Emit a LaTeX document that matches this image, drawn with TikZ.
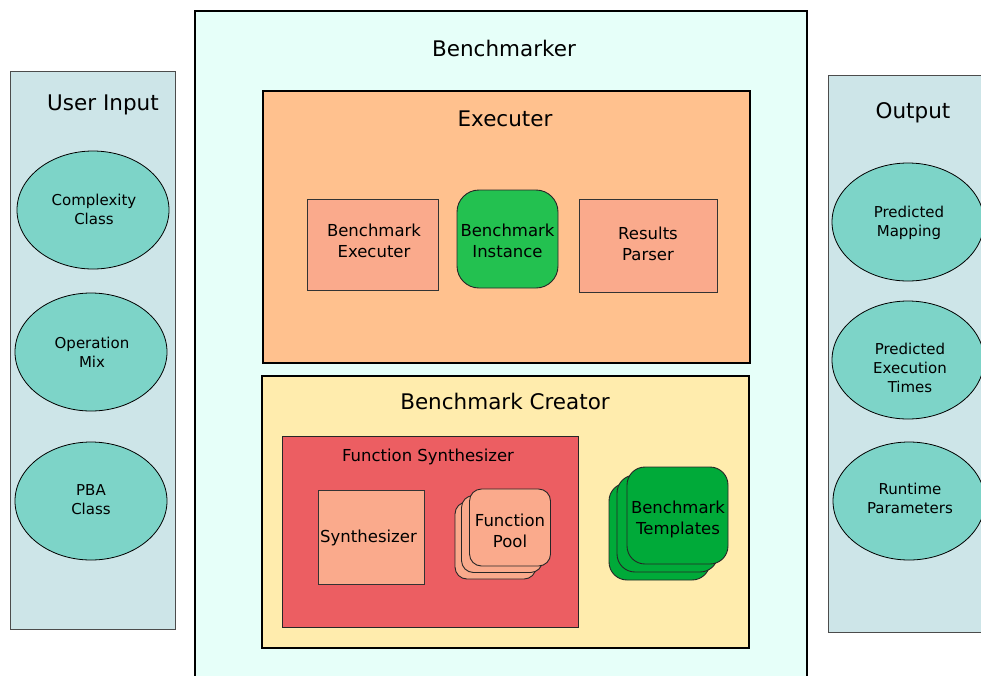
\documentclass[tikz,border=0pt]{standalone}
\usepackage{fontspec}
\setmainfont{DejaVu Sans}
\usetikzlibrary{shapes.geometric}
\definecolor{panelbg}{RGB}{205,229,232}
\definecolor{benchbg}{RGB}{230,255,249}
\definecolor{execbg}{RGB}{255,193,142}
\definecolor{creatorbg}{RGB}{255,236,173}
\definecolor{synthbg}{RGB}{236,94,98}
\definecolor{salmon}{RGB}{250,170,140}
\definecolor{instgreen}{RGB}{35,193,80}
\definecolor{tplgreen}{RGB}{0,170,57}
\definecolor{ovalfill}{RGB}{125,212,200}
\tikzset{
  big/.style={font=\fontsize{21.5}{26}\selectfont},
  mid/.style={font=\fontsize{16.5}{21}\selectfont, align=center},
  small/.style={font=\fontsize{15}{19}\selectfont, align=center},
  panel/.style={draw=black!70, line width=1pt, fill=panelbg, inner sep=0},
  frame/.style={draw=black, line width=2.6pt, inner sep=0},
  card/.style={draw=black!80, line width=0.9pt, fill=salmon, inner sep=0},
  oval/.style={ellipse, draw=black, line width=0.8pt, fill=ovalfill, inner sep=0,
    minimum width=152pt, minimum height=118pt},
  pooltile/.style={draw=black!85, line width=0.9pt, fill=salmon, rounded corners=12pt,
    minimum width=81pt, minimum height=77pt, inner sep=0},
  tpltile/.style={draw=black!85, line width=0.9pt, fill=tplgreen, rounded corners=18pt,
    minimum width=101pt, minimum height=97pt, inner sep=0},
}
\begin{document}
\begin{tikzpicture}[x=1pt,y=-1pt]
\useasboundingbox (0,0) rectangle (981,675);
\fill[white] (0,0) rectangle (981,675);

% side panels
\node[panel, minimum width=165pt, minimum height=558pt] (inpanel) at (92.5,350) {};
\node[big] (intitle) at (103,105) {User Input};
\node[oval] (cc) at (93,210) {};
\node[small] (cctext) at (94,209.5) {Complexity\\Class};
\node[oval] (om) at (91,352) {};
\node[small] (omtext) at (92,352.5) {Operation\\Mix};
\node[oval] (pba) at (91,501) {};
\node[small] (pbatext) at (91,500) {PBA\\Class};

\node[panel, minimum width=170pt, minimum height=557pt] (outpanel) at (913,353.5) {};
\node[big] (outtitle) at (913,113) {Output};
\node[oval] (pm) at (908,222) {};
\node[small] (pmtext) at (909,222.5) {Predicted\\Mapping};
\node[oval] (pet) at (908,360) {};
\node[small] (pettext) at (910,368) {Predicted\\Execution\\Times};
\node[oval] (rp) at (909,501) {};
\node[small] (rptext) at (910,498.5) {Runtime\\Parameters};

% benchmarker frame
\node[frame, fill=benchbg, minimum width=612pt, minimum height=690pt] (bench) at (501,356) {};
\node[big] (benchtitle) at (504,48.5) {Benchmarker};

% executer
\node[frame, fill=execbg, minimum width=487pt, minimum height=272pt] (exec) at (506.5,227) {};
\node[big] (exectitle) at (505,118.5) {Executer};
\node[card, minimum width=131pt, minimum height=91pt] (bexec) at (372.5,244.5) {};
\node[mid] (bexectext) at (374,241) {Benchmark\\Executer};
\node[draw=black!85, line width=0.9pt, fill=instgreen, rounded corners=22pt,
  minimum width=101pt, minimum height=98pt, inner sep=0] (binst) at (507.5,239) {};
\node[mid] (binsttext) at (507.5,240.5) {Benchmark\\Instance};
\node[card, minimum width=138pt, minimum height=93pt] (rparse) at (648,245.5) {};
\node[mid] (rparsetext) at (648,243.5) {Results\\Parser};

% benchmark creator
\node[frame, fill=creatorbg, minimum width=487pt, minimum height=272pt] (creator) at (505.5,512) {};
\node[big] (creatortitle) at (505,401) {Benchmark Creator};
\node[draw=black!85, line width=0.9pt, fill=synthbg, inner sep=0,
  minimum width=296pt, minimum height=191pt] (fsynth) at (430,531.5) {};
\node[mid] (fsynthtitle) at (428,456.5) {Function Synthesizer};
\node[card, minimum width=106pt, minimum height=94pt] (synth) at (371,537) {};
\node[mid] (synthtext) at (368.5,537.5) {Synthesizer};

% function pool: three stacked tiles
\node[pooltile] (pool3) at (495.5,540.5) {};
\node[pooltile] (pool2) at (502,534) {};
\node[pooltile] (pool1) at (510,527.5) {};
\node[mid] (pooltext) at (510,530.5) {Function\\Pool};

% benchmark templates: three stacked tiles
\node[tpltile] (tpl3) at (659.5,531.5) {};
\node[tpltile] (tpl2) at (667.5,523.5) {};
\node[tpltile] (tpl1) at (677.5,515.5) {};
\node[mid] (tpltext) at (678,519) {Benchmark\\Templates};
\end{tikzpicture}
\end{document}
